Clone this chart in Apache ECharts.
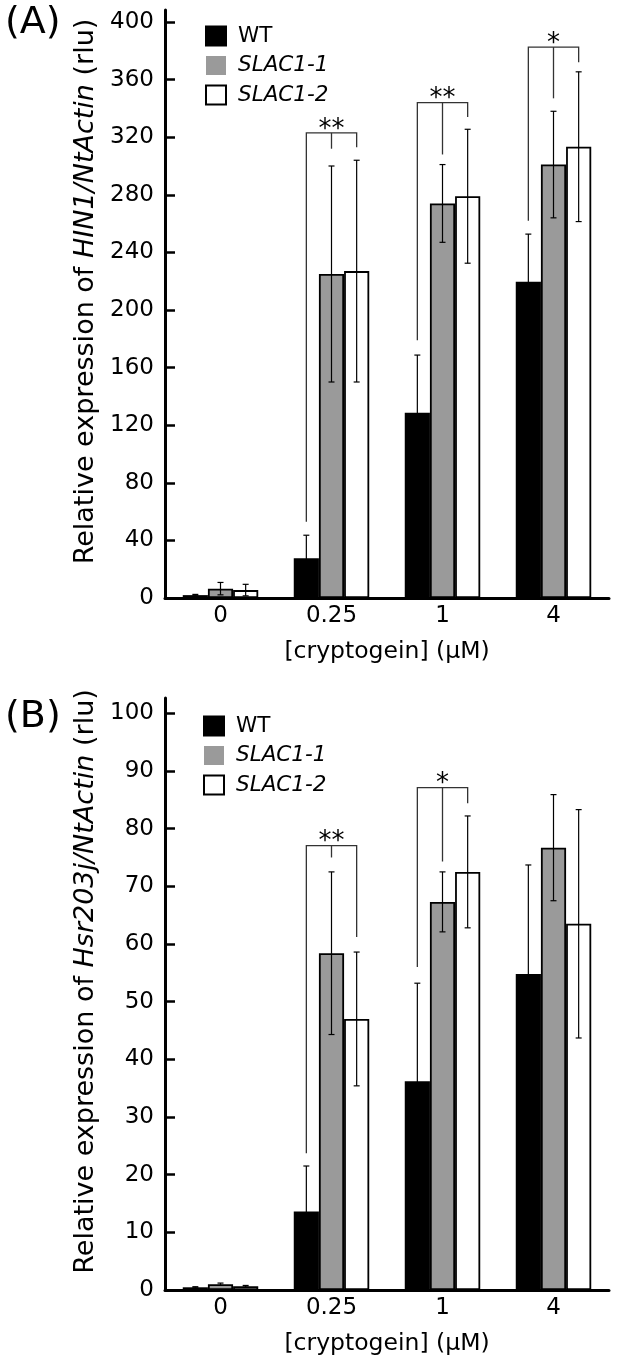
<!DOCTYPE html>
<html>
<head>
<meta charset="utf-8">
<script src="https://cdn.jsdelivr.net/npm/echarts@6/dist/echarts.min.js"></script>
<style>
html,body{margin:0;padding:0;background:#fff;}
#main{width:619px;height:1364px;}
</style>
</head>
<body>
<div id="main"></div>
<script>
// ---------- data ----------
const categories = ['0', '0.25', '1', '4'];
const seriesNames = ['WT', 'SLAC1-1', 'SLAC1-2'];

// Panel A: HIN1/NtActin
const wtA = [2, 27.6, 128.7, 219.7];
const wtAErr = [0.5, 16, 40, 33];
const slac1A = [6.5, 225, 274, 301];
const slac1AErr = [4.3, 75, 27, 37];
const slac2A = [5.5, 227, 279, 313.4];
const slac2AErr = [4, 77, 46.5, 52];
const sigCatA = [1, 2, 3];
const sigTopA = [323, 344, 382.6];
const sigLegsA = [[53, 312, 313], [179, 308, 334], [262, 347, 372]];
const sigLabelA = ['**', '**', '*'];
const yTicksA = [0, 40, 80, 120, 160, 200, 240, 280, 320, 360, 400];

// Panel B: Hsr203j/NtActin
const wtB = [0.47, 13.6, 36.2, 54.8];
const wtBErr = [0.1, 7.9, 17, 18.9];
const slac1B = [1.0, 58.4, 67.3, 76.7];
const slac1BErr = [0.2, 14.1, 5.2, 9.2];
const slac2B = [0.64, 47.0, 72.5, 63.5];
const slac2BErr = [0.15, 11.6, 9.7, 19.8];
const sigCatB = [1, 2];
const sigTopB = [77.05, 87.1];
const sigLegsB = [[23.7, 75.0, 61.2], [56.0, 74.3, 84.4]];
const sigLabelB = ['**', '*'];
const yTicksB = [0, 10, 20, 30, 40, 50, 60, 70, 80, 90, 100];

// ---------- style ----------
const FONT = 'DejaVu Sans';
const barFill = ['#000000', '#9a9a9a', '#ffffff'];
const CAT_GAP = 0.32;

const chart = echarts.init(document.getElementById('main'), null, {renderer: 'canvas'});

function xAxisFor(gi) {
  return {
    type: 'category', gridIndex: gi, data: categories,
    axisLine: {lineStyle: {color: '#000', width: 3}},
    axisTick: {inside: true, length: 10, lineStyle: {color: '#000', width: 2.5},
      interval: function (idx) { return idx > 0; }},
    axisLabel: {color: '#000', fontSize: 23, fontFamily: FONT, margin: 7},
    name: '[cryptogein] (\u03bcM)', nameLocation: 'middle', nameGap: 42,
    nameTextStyle: {color: '#000', fontSize: 23.5, fontFamily: FONT},
    splitLine: {show: false}
  };
}
function yAxisFor(gi, max, ticks, gene) {
  return {
    type: 'value', gridIndex: gi, min: 0, max: max,
    axisLine: {show: true, lineStyle: {color: '#000', width: 3}},
    axisTick: {show: true, inside: true, length: 10, customValues: ticks,
      lineStyle: {color: '#000', width: 2.5}},
    axisLabel: {color: '#000', fontSize: 23, fontFamily: FONT, margin: 11, customValues: ticks},
    splitLine: {show: false},
    name: 'Relative expression of {i|' + gene + '/NtActin} (rlu)',
    nameLocation: 'middle', nameGap: 65,
    nameTextStyle: {color: '#000', fontSize: 27, fontFamily: FONT, padding: [0, 0, 0, 25],
      rich: {i: {fontStyle: 'italic', fontSize: 27, fontFamily: FONT, color: '#000'}}}
  };
}

function barSeries(gi, name, idx, values) {
  return {
    type: 'bar', name: name, xAxisIndex: gi, yAxisIndex: gi, data: values,
    barGap: '0%', barCategoryGap: (CAT_GAP * 100) + '%',
    itemStyle: {color: barFill[idx], borderColor: '#000', borderWidth: 1.8},
    emphasis: {disabled: true}, z: 2
  };
}

function errSeries(gi, idx, values, errs) {
  return {
    type: 'custom', xAxisIndex: gi, yAxisIndex: gi, z: 5, silent: true,
    data: values.map((v, i) => [i, v, errs[i]]),
    renderItem: function (params, api) {
      const ci = api.value(0), v = api.value(1), e = api.value(2);
      const c = api.coord([ci, v]);
      const bw = api.size([1, 0])[0] * (1 - CAT_GAP) / 3;
      const x = c[0] + (idx - 1) * bw;
      const yh = api.coord([ci, v + e])[1];
      const yl = api.coord([ci, Math.max(0, v - e)])[1];
      const st = {stroke: '#000', lineWidth: 1.2, fill: null};
      const cw = 3;
      return {type: 'group', children: [
        {type: 'line', shape: {x1: x, y1: yh, x2: x, y2: yl}, style: st},
        {type: 'line', shape: {x1: x - cw, y1: yh, x2: x + cw, y2: yh}, style: st},
        {type: 'line', shape: {x1: x - cw, y1: yl, x2: x + cw, y2: yl}, style: st}
      ]};
    }
  };
}

function sigSeries(gi, cats, tops, legs, labels) {
  return {
    type: 'custom', xAxisIndex: gi, yAxisIndex: gi, z: 6, silent: true,
    data: cats.map((c, i) => [c, tops[i], legs[i][0], legs[i][1], legs[i][2]]),
    renderItem: function (params, api) {
      const ci = api.value(0), top = api.value(1);
      const c = api.coord([ci, top]);
      const bw = api.size([1, 0])[0] * (1 - CAT_GAP) / 3;
      const xs = [c[0] - bw, c[0], c[0] + bw];
      const yt = c[1];
      const y0 = api.coord([ci, api.value(2)])[1];
      const y1 = api.coord([ci, api.value(3)])[1];
      const y2 = api.coord([ci, api.value(4)])[1];
      const st = {stroke: '#333', lineWidth: 1.3, fill: null};
      return {type: 'group', children: [
        {type: 'polyline', shape: {points: [[xs[0], y0], [xs[0], yt], [xs[2], yt], [xs[2], y2]]}, style: st},
        {type: 'line', shape: {x1: xs[1], y1: yt, x2: xs[1], y2: y1}, style: st},
        {type: 'text', style: {text: labels[params.dataIndex], x: xs[1], y: yt - 3,
          align: 'center', verticalAlign: 'middle', fontSize: 26, fontFamily: FONT, fill: '#000'}}
      ]};
    }
  };
}

function legendFor(left, top) {
  return {
    left: left, top: top, orient: 'vertical', itemWidth: 20, itemHeight: 19, itemGap: 7.5,
    icon: 'rect', selectedMode: false,
    textStyle: {color: '#000', fontSize: 21.5, fontFamily: FONT, padding: [0, 0, 0, 7]},
    data: [
      {name: 'WT'},
      {name: 'SLAC1-1', itemStyle: {borderWidth: 0}, textStyle: {fontStyle: 'italic'}},
      {name: 'SLAC1-2', itemStyle: {borderWidth: 2, borderColor: '#000'}, textStyle: {fontStyle: 'italic'}}
    ]
  };
}

const option = {
  animation: false,
  backgroundColor: '#fff',
  grid: [
    {left: 165, width: 444, top: 10, height: 588},
    {left: 165, width: 444, top: 698, height: 592}
  ],
  xAxis: [xAxisFor(0), xAxisFor(1)],
  yAxis: [yAxisFor(0, 588 / 1.44, yTicksA, 'HIN1'), yAxisFor(1, 592 / 5.767, yTicksB, 'Hsr203j')],
  legend: [legendFor(200, 20), legendFor(198, 710)],
  series: [
    barSeries(0, seriesNames[0], 0, wtA),
    barSeries(0, seriesNames[1], 1, slac1A),
    barSeries(0, seriesNames[2], 2, slac2A),
    barSeries(1, seriesNames[0], 0, wtB),
    barSeries(1, seriesNames[1], 1, slac1B),
    barSeries(1, seriesNames[2], 2, slac2B),
    errSeries(0, 0, wtA, wtAErr),
    errSeries(0, 1, slac1A, slac1AErr),
    errSeries(0, 2, slac2A, slac2AErr),
    errSeries(1, 0, wtB, wtBErr),
    errSeries(1, 1, slac1B, slac1BErr),
    errSeries(1, 2, slac2B, slac2BErr),
    sigSeries(0, sigCatA, sigTopA, sigLegsA, sigLabelA),
    sigSeries(1, sigCatB, sigTopB, sigLegsB, sigLabelB)
  ],
  graphic: [
    {type: 'text', left: 5, top: 4, style: {text: '(A)', fontSize: 38, fontFamily: FONT, fill: '#000'}},
    {type: 'text', left: 5, top: 698, style: {text: '(B)', fontSize: 38, fontFamily: FONT, fill: '#000'}}
  ]
};
chart.setOption(option);
</script>
</body>
</html>
